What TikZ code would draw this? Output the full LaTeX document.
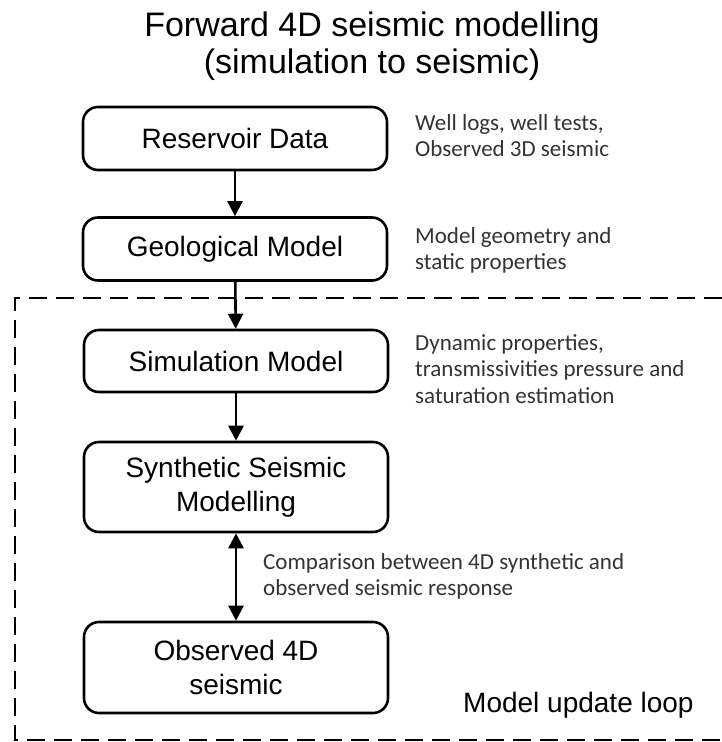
\documentclass[tikz,border=0pt]{standalone}
\usepackage{fontspec}
\setmainfont{Liberation Sans}
\newfontfamily\notefont{Carlito}
\usetikzlibrary{positioning,arrows.meta}
\tikzset{
  stagebox/.style={draw,rounded corners=15pt,line width=2.6pt,align=center,minimum width=304pt,minimum height=63pt,inner sep=0pt,font=\fontsize{28}{34}\selectfont},
  stagearr/.style={-{Triangle[length=15pt,width=15pt]},line width=2.6pt},
  stagedbl/.style={{Triangle[length=15pt,width=15pt]}-{Triangle[length=15pt,width=15pt]},line width=2.6pt},
  note/.style={anchor=west,align=left,inner sep=0pt,font=\notefont\fontsize{23}{26.5}\selectfont,text=black!80},
  loopframe/.style={dash pattern=on 18pt off 9pt,line width=2.4pt}
}
\begin{document}
\begin{tikzpicture}[x=1pt,y=-1pt]
  \useasboundingbox (0,0) rectangle (722,742);
  \node[align=center,inner sep=0pt,font=\fontsize{34}{37}\selectfont] (title) at (372,46) {Forward 4D seismic modelling\\(simulation to seismic)};

  % model update loop
  \draw[loopframe] (722,298) -- (15,298) -- (15,740) -- (722,740);
  \node[anchor=west,inner sep=0pt,font=\fontsize{28}{34}\selectfont] (looplbl) at (463,705) {Model update loop};

  \node[stagebox] (res) at (235,138.5) {Reservoir Data};
  \node[stagebox] (geo) at (235,249) {Geological Model};
  \node[stagebox,minimum height=62pt] (sim) at (236,361) {Simulation Model};
  \node[stagebox,minimum height=90pt] (syn) at (236,487) {Synthetic Seismic\\Modelling};
  \node[stagebox,minimum height=91pt] (obs) at (236,667.5) {Observed 4D\\seismic};

  \draw[stagearr] (res) -- (geo);
  \draw[stagearr] (geo) -- (sim);
  \draw[stagearr] (sim) -- (syn);
  \draw[stagedbl] (syn) -- (obs);

  \node[note] (resnote) at (415,135.5) {Well logs, well tests,\\Observed 3D seismic};
  \node[note] (geonote) at (415,250.5) {Model geometry and\\static properties};
  \node[note] (simnote) at (415,369) {Dynamic properties,\\transmissivities pressure and\\saturation estimation};
  \node[note] (cmpnote) at (263,576.5) {Comparison between 4D synthetic and\\observed seismic response};
\end{tikzpicture}
\end{document}
